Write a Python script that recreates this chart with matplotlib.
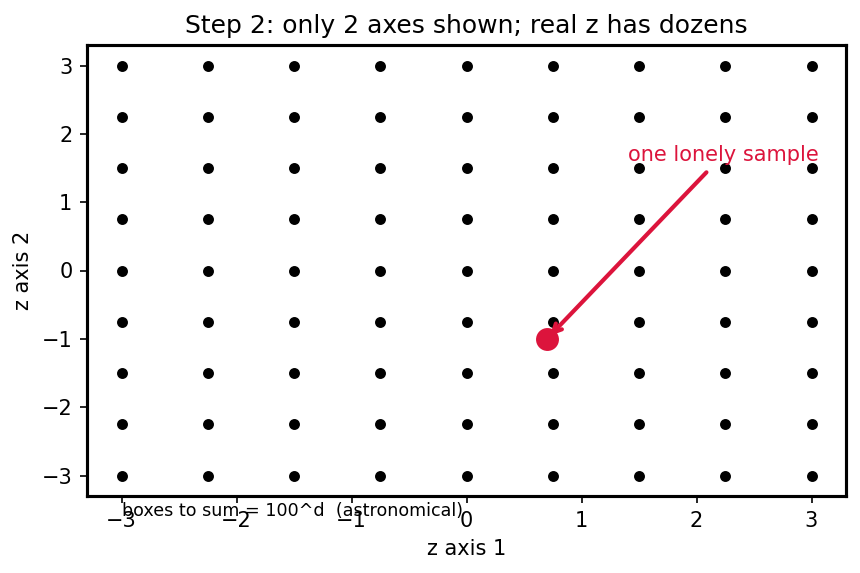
import numpy as np
import matplotlib
matplotlib.use("Agg")
import matplotlib.pyplot as plt

grid_vals = [-3.0, -2.25, -1.5, -0.75, 0.0, 0.75, 1.5, 2.25, 3.0]
sample_x = [0.7]
sample_y = [-1.0]
title = "Step 2: only 2 axes shown; real z has dozens"
note = "boxes to sum = 100^d  (astronomical)"

fig, ax = plt.subplots(figsize=(860/150, 573/150), dpi=150)
gx, gy = np.meshgrid(grid_vals, grid_vals)
ax.scatter(gx.ravel(), gy.ravel(), s=18, color="black", zorder=2)
ax.scatter(sample_x, sample_y, s=100, color="crimson", zorder=3)
ax.annotate("one lonely sample", xy=(sample_x[0], sample_y[0]), xytext=(1.4, 1.6),
            color="crimson", fontsize=10, ha="left",
            arrowprops=dict(arrowstyle="->", color="crimson", lw=2))
ax.text(-3, -3.6, note, fontsize=8.4)
ax.set_xlim(-3.3, 3.3)
ax.set_ylim(-3.3, 3.3)
ax.set_xlabel("z axis 1")
ax.set_ylabel("z axis 2")
ax.set_title(title)
for sp in ax.spines.values():
    sp.set_linewidth(1.5)
fig.subplots_adjust(left=87/860, right=846/860, top=1-45/573, bottom=1-496/573)
fig.savefig("out.png", dpi=150)
